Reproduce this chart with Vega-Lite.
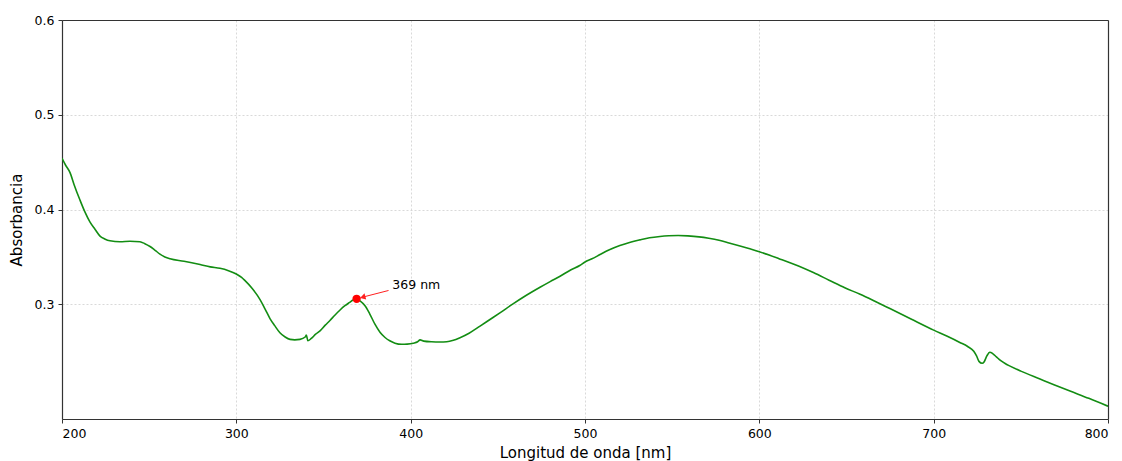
{
  "$schema": "https://vega.github.io/schema/vega-lite/v6.json",
  "width": 1046,
  "height": 399,
  "autosize": {"type": "none"},
  "padding": {"left": 62, "top": 20, "right": 14, "bottom": 42},
  "background": "white",
  "view": {"stroke": null},
  "resolve": {"axis": {"x": "independent", "y": "independent"}},
  "config": {
    "font": "DejaVu Sans",
    "axis": {
      "labelFont": "DejaVu Sans",
      "titleFont": "DejaVu Sans",
      "labelFontSize": 12.5,
      "titleFontSize": 15,
      "titleFontWeight": "normal",
      "labelColor": "#000000",
      "titleColor": "#000000",
      "domainColor": "#333333",
      "domainWidth": 1.2,
      "tickColor": "#333333",
      "tickSize": 4,
      "gridColor": "#cfcfcf",
      "gridDash": [2, 2],
      "gridWidth": 0.8
    }
  },
  "datasets": {
    "spectrum": [
      {"nm": 200, "A": 0.454},
      {"nm": 202, "A": 0.447},
      {"nm": 204.6, "A": 0.439},
      {"nm": 207, "A": 0.426},
      {"nm": 210.3, "A": 0.410},
      {"nm": 213, "A": 0.398},
      {"nm": 216, "A": 0.387},
      {"nm": 219, "A": 0.379},
      {"nm": 221.8, "A": 0.372},
      {"nm": 224.5, "A": 0.369},
      {"nm": 227.5, "A": 0.367},
      {"nm": 233.3, "A": 0.366},
      {"nm": 239, "A": 0.3665},
      {"nm": 244.7, "A": 0.366},
      {"nm": 247.5, "A": 0.364},
      {"nm": 250.5, "A": 0.361},
      {"nm": 253.4, "A": 0.357},
      {"nm": 256.2, "A": 0.353},
      {"nm": 259, "A": 0.350},
      {"nm": 262, "A": 0.348},
      {"nm": 270, "A": 0.3455},
      {"nm": 279.2, "A": 0.342},
      {"nm": 285, "A": 0.3395},
      {"nm": 290.6, "A": 0.338},
      {"nm": 295.5, "A": 0.3355},
      {"nm": 300, "A": 0.332},
      {"nm": 303, "A": 0.3285},
      {"nm": 305, "A": 0.325},
      {"nm": 309, "A": 0.317},
      {"nm": 313.6, "A": 0.305},
      {"nm": 316.5, "A": 0.295},
      {"nm": 319.3, "A": 0.285},
      {"nm": 322, "A": 0.2775},
      {"nm": 325, "A": 0.270},
      {"nm": 328, "A": 0.2655},
      {"nm": 330.8, "A": 0.263},
      {"nm": 333.5, "A": 0.2625},
      {"nm": 336.5, "A": 0.263},
      {"nm": 339.5, "A": 0.2655},
      {"nm": 340.2, "A": 0.2675},
      {"nm": 341, "A": 0.2615},
      {"nm": 343, "A": 0.264},
      {"nm": 345.5, "A": 0.2685},
      {"nm": 348, "A": 0.272},
      {"nm": 351, "A": 0.278},
      {"nm": 353.7, "A": 0.283},
      {"nm": 356.5, "A": 0.2885},
      {"nm": 359.5, "A": 0.294},
      {"nm": 362.3, "A": 0.2985},
      {"nm": 365, "A": 0.302},
      {"nm": 367, "A": 0.3045},
      {"nm": 369, "A": 0.3055},
      {"nm": 371.3, "A": 0.303},
      {"nm": 373.8, "A": 0.2985},
      {"nm": 376.5, "A": 0.290},
      {"nm": 379.5, "A": 0.279},
      {"nm": 382.4, "A": 0.2705},
      {"nm": 385.3, "A": 0.265},
      {"nm": 388, "A": 0.2615},
      {"nm": 391, "A": 0.259},
      {"nm": 394.9, "A": 0.2578},
      {"nm": 398, "A": 0.258},
      {"nm": 401.5, "A": 0.259},
      {"nm": 404, "A": 0.2605},
      {"nm": 405.4, "A": 0.2625},
      {"nm": 407.5, "A": 0.2612},
      {"nm": 412, "A": 0.2605},
      {"nm": 416.8, "A": 0.2603},
      {"nm": 420.7, "A": 0.2605},
      {"nm": 424.5, "A": 0.262},
      {"nm": 428, "A": 0.2645},
      {"nm": 433.5, "A": 0.2695},
      {"nm": 439.8, "A": 0.277},
      {"nm": 445.5, "A": 0.284},
      {"nm": 451.2, "A": 0.291},
      {"nm": 458.7, "A": 0.3005},
      {"nm": 465, "A": 0.308},
      {"nm": 474.2, "A": 0.318},
      {"nm": 480, "A": 0.324},
      {"nm": 485.7, "A": 0.3296},
      {"nm": 492, "A": 0.3365},
      {"nm": 497, "A": 0.341},
      {"nm": 500, "A": 0.3447},
      {"nm": 504, "A": 0.348},
      {"nm": 508.6, "A": 0.3525},
      {"nm": 514, "A": 0.3575},
      {"nm": 520, "A": 0.362},
      {"nm": 526, "A": 0.3655},
      {"nm": 531.5, "A": 0.368},
      {"nm": 537, "A": 0.3702},
      {"nm": 543, "A": 0.3716},
      {"nm": 548, "A": 0.3723},
      {"nm": 553.4, "A": 0.3726},
      {"nm": 559, "A": 0.3722},
      {"nm": 565.4, "A": 0.3712},
      {"nm": 571, "A": 0.3697},
      {"nm": 576.9, "A": 0.3676},
      {"nm": 582.6, "A": 0.3648},
      {"nm": 588.4, "A": 0.3618},
      {"nm": 594, "A": 0.3588},
      {"nm": 600, "A": 0.3555},
      {"nm": 611.3, "A": 0.3482},
      {"nm": 622.8, "A": 0.3402},
      {"nm": 631, "A": 0.3335},
      {"nm": 640, "A": 0.3255},
      {"nm": 649, "A": 0.3175},
      {"nm": 657.8, "A": 0.3106},
      {"nm": 666, "A": 0.3035},
      {"nm": 674.9, "A": 0.2955},
      {"nm": 687, "A": 0.2845},
      {"nm": 700, "A": 0.2728},
      {"nm": 707.5, "A": 0.2665},
      {"nm": 715, "A": 0.2598},
      {"nm": 719.5, "A": 0.2555},
      {"nm": 723, "A": 0.2505},
      {"nm": 724.6, "A": 0.2455},
      {"nm": 726, "A": 0.2398},
      {"nm": 727.8, "A": 0.2378},
      {"nm": 729, "A": 0.2395},
      {"nm": 730.5, "A": 0.2455},
      {"nm": 732.2, "A": 0.2495},
      {"nm": 734, "A": 0.2478},
      {"nm": 736, "A": 0.2445},
      {"nm": 738.5, "A": 0.2405},
      {"nm": 741, "A": 0.2375},
      {"nm": 743.8, "A": 0.2348},
      {"nm": 750, "A": 0.2295},
      {"nm": 761, "A": 0.2212},
      {"nm": 769, "A": 0.2152},
      {"nm": 778.2, "A": 0.2085},
      {"nm": 789, "A": 0.2008},
      {"nm": 800, "A": 0.1925}
    ],
    "peak": [{"nm": 369, "A": 0.3058, "label": "369 nm"}],
    "arrow": [{"x1": 387.3, "y1": 0.3146, "x2": 372.5, "y2": 0.3076}],
    "label": [{"nm": 389.5, "A": 0.3205, "label": "369 nm"}]
  },
  "layer": [
    {
      "data": {"name": "spectrum"},
      "mark": {"type": "line", "color": "#138d13", "strokeWidth": 1.6, "interpolate": "monotone", "clip": true},
      "encoding": {
        "x": {
          "field": "nm", "type": "quantitative",
          "scale": {"domain": [200, 800], "nice": false, "zero": false},
          "axis": {"values": [200, 300, 400, 500, 600, 700, 800], "title": "Longitud de onda [nm]", "titlePadding": 6, "labelPadding": 4, "format": "d"}
        },
        "y": {
          "field": "A", "type": "quantitative",
          "scale": {"domain": [0.179, 0.6], "nice": false, "zero": false},
          "axis": {"values": [0.3, 0.4, 0.5, 0.6], "title": "Absorbancia", "format": ".1f", "titlePadding": 10, "labelPadding": 4}
        }
      }
    },
    {
      "data": {"name": "arrow"},
      "mark": {"type": "rule", "color": "#ff2020", "strokeWidth": 1},
      "encoding": {
        "x": {"field": "x1", "type": "quantitative", "scale": {"domain": [200, 800], "nice": false, "zero": false}, "axis": {"orient": "top", "labels": false, "ticks": false, "grid": false, "title": null, "domain": true, "zindex": 2}},
        "y": {"field": "y1", "type": "quantitative", "scale": {"domain": [0.179, 0.6], "nice": false, "zero": false}, "axis": {"orient": "right", "labels": false, "ticks": false, "grid": false, "title": null, "domain": true, "zindex": 2}},
        "x2": {"field": "x2"},
        "y2": {"field": "y2"}
      }
    },
    {
      "data": {"name": "arrow"},
      "mark": {"type": "point", "shape": "triangle-left", "filled": true, "color": "#ff2020", "size": 40, "angle": 344, "opacity": 1},
      "encoding": {
        "x": {"field": "x2", "type": "quantitative", "axis": null},
        "y": {"field": "y2", "type": "quantitative", "axis": null}
      }
    },
    {
      "data": {"name": "peak"},
      "mark": {"type": "point", "shape": "circle", "filled": true, "color": "#ff0000", "size": 70, "opacity": 1},
      "encoding": {
        "x": {"field": "nm", "type": "quantitative", "axis": null},
        "y": {"field": "A", "type": "quantitative", "axis": null}
      }
    },
    {
      "data": {"name": "label"},
      "mark": {"type": "text", "align": "left", "baseline": "middle", "fontSize": 12.5, "font": "DejaVu Sans", "color": "#000000"},
      "encoding": {
        "x": {"field": "nm", "type": "quantitative", "axis": null},
        "y": {"field": "A", "type": "quantitative", "axis": null},
        "text": {"field": "label"}
      }
    }
  ]
}
